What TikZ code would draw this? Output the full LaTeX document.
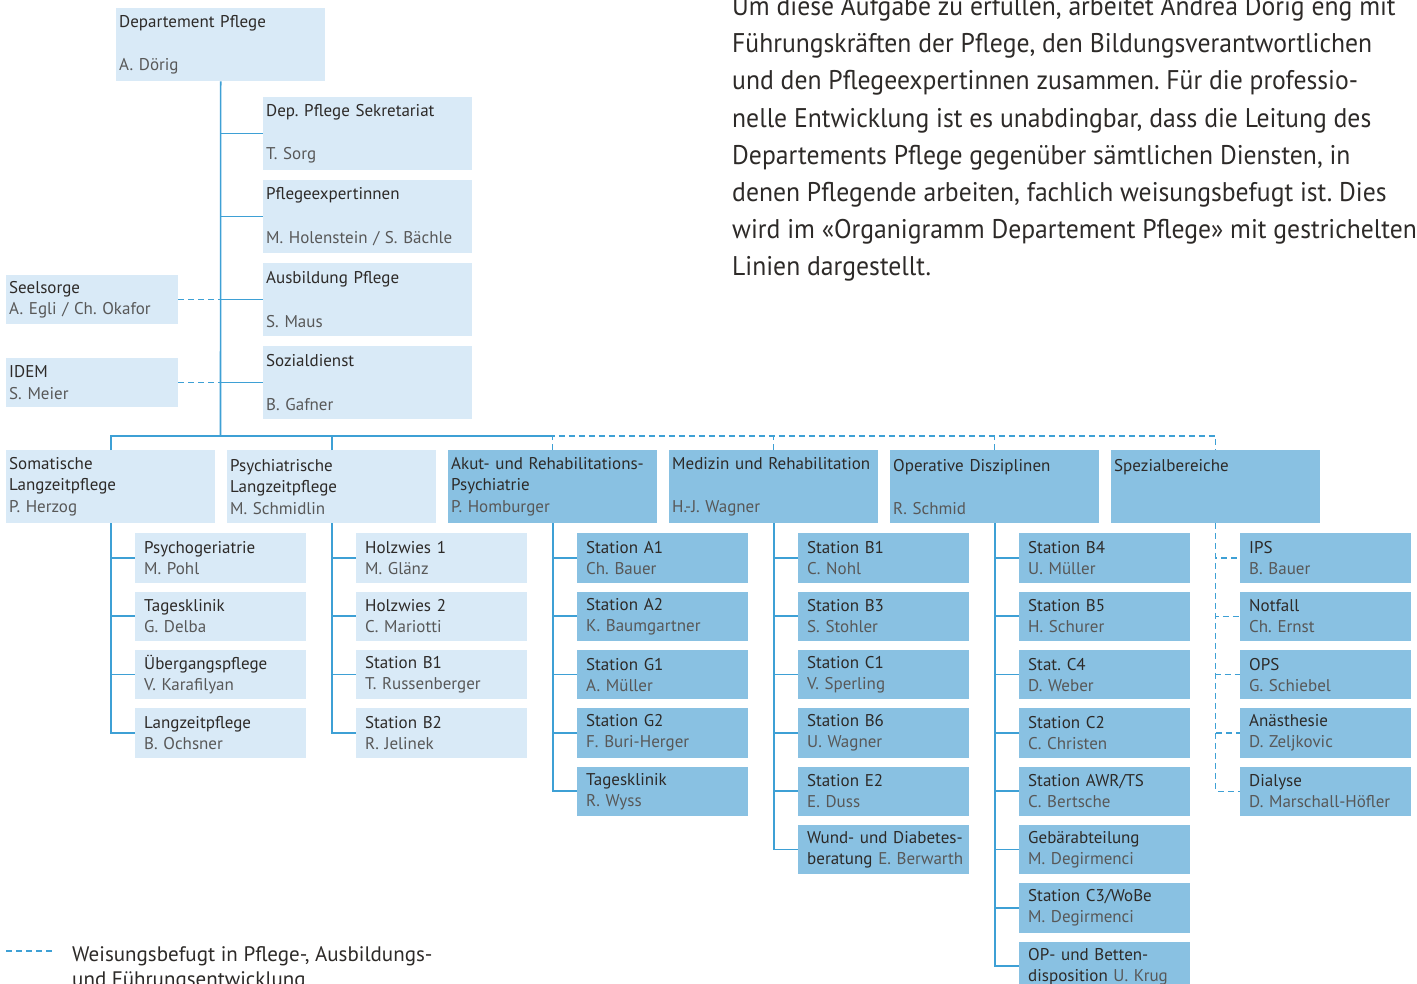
\documentclass[tikz,border=0pt]{standalone}
\usepackage{fontspec}
\setmainfont{PT Sans}
\newfontfamily\parafont[FakeStretch=0.95]{PT Sans}
\definecolor{lightfill}{RGB}{217,234,247}
\definecolor{darkfill}{RGB}{137,193,226}
\definecolor{linec}{RGB}{62,160,213}
\definecolor{titc}{RGB}{45,42,40}
\definecolor{namec}{RGB}{88,88,88}
\newcommand\nm[1]{\textcolor{namec}{#1}}
\frenchspacing
\tikzset{
  box/.style={anchor=north west, inner sep=0pt, align=left, text=titc, font=\fontsize{17}{21.5}\selectfont},
  wide/.style={box, minimum width=209pt, minimum height=73pt, inner xsep=3pt, text width=203pt},
  small/.style={box, minimum width=172pt, minimum height=49pt, inner xsep=3pt, text width=166pt},
  sub/.style={box, minimum width=171pt, minimum height=49.5pt, inner xsep=9pt, text width=153pt, font=\fontsize{17}{21}\selectfont},
  lf/.style={fill=lightfill},
  df/.style={fill=darkfill},
  conn/.style={draw=linec, line width=1.6pt},
  dconn/.style={draw=linec, line width=1.4pt, dash pattern=on 6pt off 4pt},
}
\begin{document}
\begin{tikzpicture}[x=1pt,y=-1pt]
\useasboundingbox (0,0) rectangle (1417,984);
% top level
\node[wide,lf] (dep) at (116,8) {Departement Pflege\\[22pt]\nm{A. Dörig}};
\node[wide,lf] (sek) at (263,97) {Dep. Pflege Sekretariat\\[22pt]\nm{T. Sorg}};
\node[wide,lf] (pex) at (263,180) {Pflegeexpertinnen\\[22pt]\nm{M. Holenstein / S. Bächle}};
\node[wide,lf] (aus) at (263,263) {Ausbildung Pflege\\[22pt]\nm{S. Maus}};
\node[wide,lf] (soz) at (263,346) {Sozialdienst\\[22pt]\nm{B. Gafner}};
\node[small,lf] (seel) at (6,275) {Seelsorge\\\nm{A. Egli / Ch. Okafor}};
\node[small,lf] (idem) at (6,358) {IDEM\\\nm{S. Meier}};
\coordinate (bus) at (220.5,436);
% level 2
\node[wide,lf] (som) at (6,450) {Somatische\\Langzeitpflege\\\nm{P. Herzog}};
\node[wide,lf] (psy) at (227,450) {Psychiatrische\\Langzeitpflege\\\nm{M. Schmidlin}};
\node[wide,df] (akut) at (448,450) {Akut- und Rehabilitations-\\Psychiatrie\\\nm{P. Homburger}};
\node[wide,df] (med) at (669,450) {Medizin und Rehabilitation\\\mbox{}\\\nm{H.-J. Wagner}};
\node[wide,df] (op) at (890,450) {Operative Disziplinen\\\mbox{}\\\nm{R. Schmid}};
\node[wide,df] (spez) at (1111,450) {Spezialbereiche\\\mbox{}\\\mbox{}};
% column 0
\node[sub,lf] (a1) at (135,533) {Psychogeriatrie\\\nm{M. Pohl}};
\node[sub,lf] (a2) at (135,591.3) {Tagesklinik\\\nm{G. Delba}};
\node[sub,lf] (a3) at (135,649.6) {Übergangspflege\\\nm{V. Karafilyan}};
\node[sub,lf] (a4) at (135,708) {Langzeitpflege\\\nm{B. Ochsner}};
% column 1
\node[sub,lf] (b1) at (356,533) {Holzwies 1\\\nm{M. Glänz}};
\node[sub,lf] (b2) at (356,591.3) {Holzwies 2\\\nm{C. Mariotti}};
\node[sub,lf] (b3) at (356,649.6) {Station B1\\\nm{T. Russenberger}};
\node[sub,lf] (b4) at (356,708) {Station B2\\\nm{R. Jelinek}};
% column 2
\node[sub,df] (c1) at (577,533) {Station A1\\\nm{Ch. Bauer}};
\node[sub,df] (c2) at (577,591.3) {Station A2\\\nm{K. Baumgartner}};
\node[sub,df] (c3) at (577,649.6) {Station G1\\\nm{A. Müller}};
\node[sub,df] (c4) at (577,708) {Station G2\\\nm{F. Buri-Herger}};
\node[sub,df] (c5) at (577,766.3) {Tagesklinik\\\nm{R. Wyss}};
% column 3
\node[sub,df] (d1) at (798,533) {Station B1\\\nm{C. Nohl}};
\node[sub,df] (d2) at (798,591.3) {Station B3\\\nm{S. Stohler}};
\node[sub,df] (d3) at (798,649.6) {Station C1\\\nm{V. Sperling}};
\node[sub,df] (d4) at (798,708) {Station B6\\\nm{U. Wagner}};
\node[sub,df] (d5) at (798,766.3) {Station E2\\\nm{E. Duss}};
\node[sub,df] (d6) at (798,824.6) {\mbox{Wund- und Diabetes-}\\\mbox{beratung \nm{E. Berwarth}}};
% column 4
\node[sub,df] (e1) at (1019,533) {Station B4\\\nm{U. Müller}};
\node[sub,df] (e2) at (1019,591.3) {Station B5\\\nm{H. Schurer}};
\node[sub,df] (e3) at (1019,649.6) {Stat. C4\\\nm{D. Weber}};
\node[sub,df] (e4) at (1019,708) {Station C2\\\nm{C. Christen}};
\node[sub,df] (e5) at (1019,766.3) {Station AWR/TS\\\nm{C. Bertsche}};
\node[sub,df] (e6) at (1019,824.6) {Gebärabteilung\\\nm{M. Degirmenci}};
\node[sub,df] (e7) at (1019,883) {Station C3/WoBe\\\nm{M. Degirmenci}};
\node[sub,df] (e8) at (1019,941.3) {\mbox{OP- und Betten-}\\\mbox{disposition \nm{U. Krug}}};
% column 5
\node[sub,df] (f1) at (1240,533) {IPS\\\nm{B. Bauer}};
\node[sub,df] (f2) at (1240,591.3) {Notfall\\\nm{Ch. Ernst}};
\node[sub,df] (f3) at (1240,649.6) {OPS\\\nm{G. Schiebel}};
\node[sub,df] (f4) at (1240,708) {Anästhesie\\\nm{D. Zeljkovic}};
\node[sub,df] (f5) at (1240,766.3) {Dialyse\\\nm{D. Marschall-Höfler}};
% connectors top
\draw[conn] (dep.south) -- (bus);
\foreach \n in {sek,pex,aus,soz} \draw[conn] (dep.south |- \n.west) -- (\n.west);
\foreach \n in {seel,idem} \draw[dconn] (\n.east) -- (dep.south |- \n.east);
\draw[conn] (som.north) |- (akut.north |- bus);
\draw[conn] (psy.north) -- (psy.north |- bus);
\draw[dconn] (akut.north) |- (spez.north |- bus) -- (spez.north);
\draw[dconn] (med.north) -- (med.north |- bus);
\draw[dconn] (op.north) -- (op.north |- bus);
% children
\foreach \c in {a1,a2,a3,a4} \draw[conn] (som.south) |- (\c.west);
\foreach \c in {b1,b2,b3,b4} \draw[conn] (psy.south) |- (\c.west);
\foreach \c in {c1,c2,c3,c4,c5} \draw[conn] (akut.south) |- (\c.west);
\foreach \c in {d1,d2,d3,d4,d5,d6} \draw[conn] (med.south) |- (\c.west);
\foreach \c in {e1,e2,e3,e4,e5,e6,e7,e8} \draw[conn] (op.south) |- (\c.west);
\foreach \c in {f1,f2,f3,f4,f5} \draw[dconn] (spez.south) |- (\c.west);
% paragraph
\node[anchor=base west, inner sep=0pt, align=left, text=titc, font=\parafont\fontsize{27}{37.2}\selectfont] (txt) at (732,276) {Um diese Aufgabe zu erfüllen, arbeitet Andrea Dörig eng mit\\
Führungskräften der Pflege, den Bildungsverantwortlichen\\
und den Pflegeexpertinnen zusammen. Für die professio-\\
nelle Entwicklung ist es unabdingbar, dass die Leitung des\\
Departements Pflege gegenüber sämtlichen Diensten, in\\
denen Pflegende arbeiten, fachlich weisungsbefugt ist. Dies\\
wird im «Organigramm Departement Pflege» mit gestrichelten\\
Linien dargestellt.};
% legend
\coordinate (lg1) at (6,951);
\coordinate (lg2) at (52,951);
\draw[dconn] (lg1) -- (lg2);
\node[anchor=base west, inner sep=0pt, align=left, text=titc, font=\fontsize{21}{25}\selectfont] (leg) at (72,986) {Weisungsbefugt in Pflege-, Ausbildungs-\\und Führungsentwicklung};
\end{tikzpicture}
\end{document}
